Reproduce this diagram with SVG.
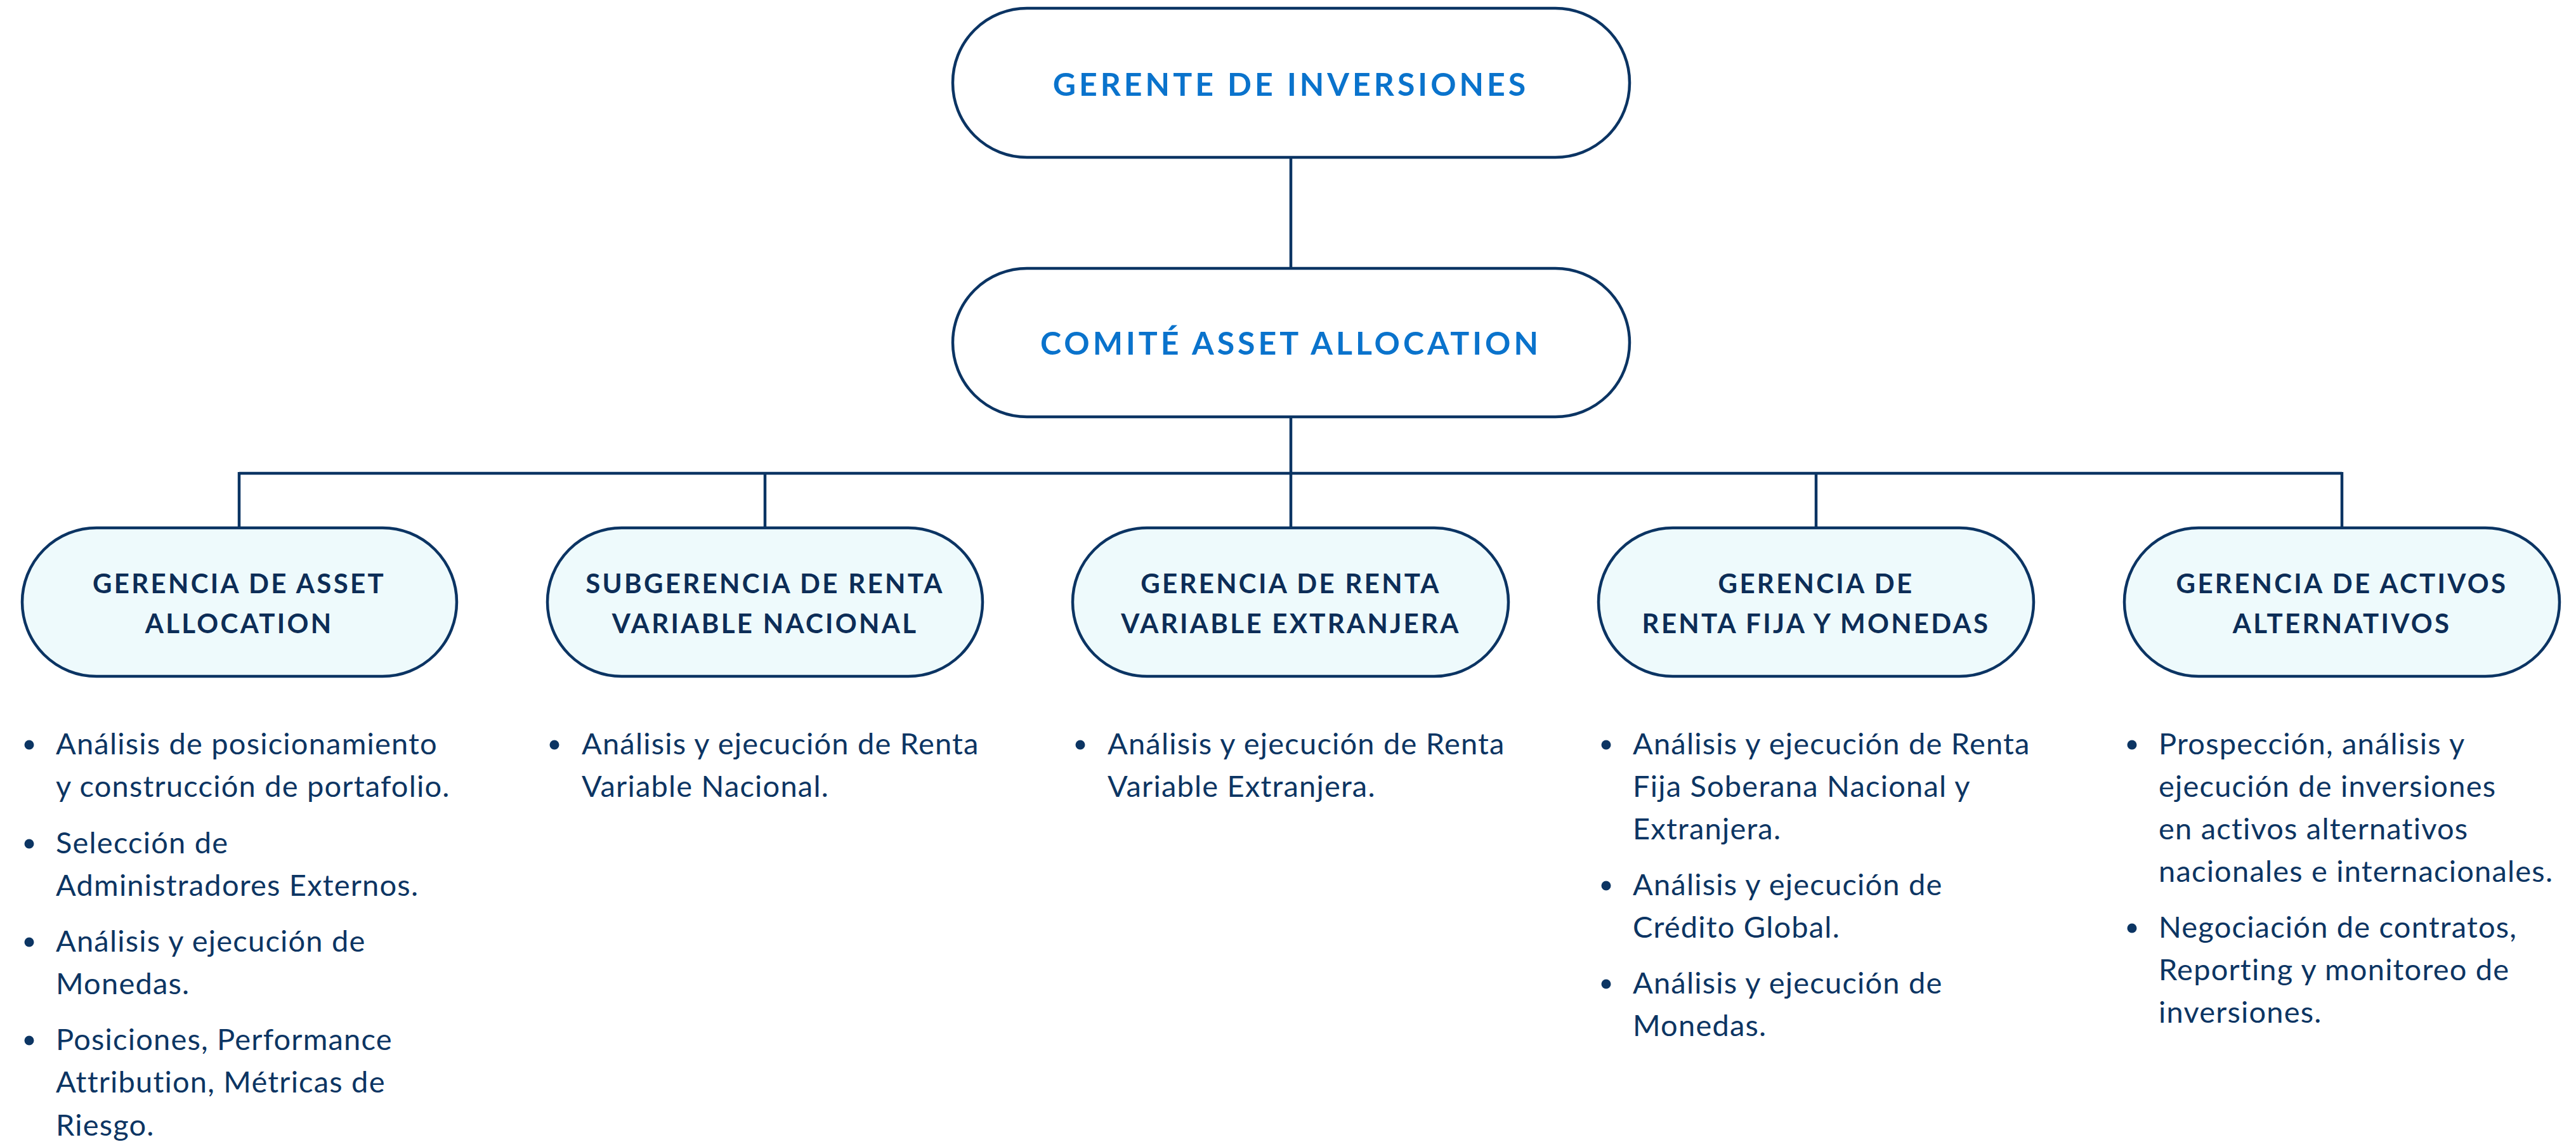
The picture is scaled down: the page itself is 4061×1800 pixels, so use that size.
<svg xmlns="http://www.w3.org/2000/svg" width="4061" height="1800" viewBox="0 0 4061 1800">
<style>
.bg{fill:#ffffff}
.top{fill:#ffffff;stroke:#0b3463;stroke-width:4.5}
.sub{fill:#eefafc;stroke:#0b3463;stroke-width:4.5}
.t1{font-family:Lato,"Open Sans",sans-serif;font-weight:700;font-size:50px;fill:#0a73cc;text-anchor:middle;letter-spacing:5px}
.t2{font-family:Lato,"Open Sans",sans-serif;font-weight:700;font-size:42px;fill:#0c2d57;text-anchor:middle;letter-spacing:3.3px}
.b{font-family:Lato,"Open Sans",sans-serif;font-weight:400;font-size:47px;fill:#0c3563;letter-spacing:1.2px}
.dot{fill:#0c3563}
.con{fill:none;stroke:#0b3463;stroke-width:4.5}
</style>
<rect class="bg" x="0" y="0" width="4061" height="1800"/>
<g id="connectors">
<line class="con" x1="2035" y1="248" x2="2035" y2="423"/>
<line class="con" x1="2035" y1="657" x2="2035" y2="746"/>
<line class="con" x1="377" y1="746" x2="3692" y2="746"/>
<line class="con" x1="377" y1="744" x2="377" y2="832"/>
<line class="con" x1="1206" y1="744" x2="1206" y2="832"/>
<line class="con" x1="2035" y1="744" x2="2035" y2="832"/>
<line class="con" x1="2863" y1="744" x2="2863" y2="832"/>
<line class="con" x1="3692" y1="744" x2="3692" y2="832"/>
</g>
<g id="gerente">
<rect class="top" x="1502" y="13" width="1067" height="235" rx="117" ry="117"/>
<text class="t1" x="2035" y="151">GERENTE DE INVERSIONES</text>
</g>
<g id="comite">
<rect class="top" x="1502" y="423" width="1067" height="234" rx="117" ry="117"/>
<text class="t1" x="2035" y="559">COMITÉ ASSET ALLOCATION</text>
</g>
<g id="asset-allocation">
<rect class="sub" x="35" y="832" width="685" height="234" rx="117" ry="117"/>
<text class="t2" x="377" y="935">GERENCIA DE ASSET</text>
<text class="t2" x="377" y="998">ALLOCATION</text>
<circle class="dot" cx="46" cy="1174" r="7.5"/>
<text class="b" x="88" y="1189">Análisis de posicionamiento</text>
<text class="b" x="88" y="1256">y construcción de portafolio.</text>
<circle class="dot" cx="46" cy="1330" r="7.5"/>
<text class="b" x="88" y="1345">Selección de</text>
<text class="b" x="88" y="1412">Administradores Externos.</text>
<circle class="dot" cx="46" cy="1485" r="7.5"/>
<text class="b" x="88" y="1500">Análisis y ejecución de</text>
<text class="b" x="88" y="1567">Monedas.</text>
<circle class="dot" cx="46" cy="1640" r="7.5"/>
<text class="b" x="88" y="1655">Posiciones, Performance</text>
<text class="b" x="88" y="1722">Attribution, Métricas de</text>
<text class="b" x="88" y="1790">Riesgo.</text>
</g>
<g id="renta-variable-nacional">
<rect class="sub" x="863" y="832" width="686" height="234" rx="117" ry="117"/>
<text class="t2" x="1206" y="935">SUBGERENCIA DE RENTA</text>
<text class="t2" x="1206" y="998">VARIABLE NACIONAL</text>
<circle class="dot" cx="874" cy="1174" r="7.5"/>
<text class="b" x="917" y="1189">Análisis y ejecución de Renta</text>
<text class="b" x="917" y="1256">Variable Nacional.</text>
</g>
<g id="renta-variable-extranjera">
<rect class="sub" x="1691" y="832" width="687" height="234" rx="117" ry="117"/>
<text class="t2" x="2035" y="935">GERENCIA DE RENTA</text>
<text class="t2" x="2035" y="998">VARIABLE EXTRANJERA</text>
<circle class="dot" cx="1703" cy="1174" r="7.5"/>
<text class="b" x="1746" y="1189">Análisis y ejecución de Renta</text>
<text class="b" x="1746" y="1256">Variable Extranjera.</text>
</g>
<g id="renta-fija">
<rect class="sub" x="2520" y="832" width="686" height="234" rx="117" ry="117"/>
<text class="t2" x="2863" y="935">GERENCIA DE</text>
<text class="t2" x="2863" y="998">RENTA FIJA Y MONEDAS</text>
<circle class="dot" cx="2532" cy="1174" r="7.5"/>
<text class="b" x="2574" y="1189">Análisis y ejecución de Renta</text>
<text class="b" x="2574" y="1256">Fija Soberana Nacional y</text>
<text class="b" x="2574" y="1323">Extranjera.</text>
<circle class="dot" cx="2532" cy="1396" r="7.5"/>
<text class="b" x="2574" y="1411">Análisis y ejecución de</text>
<text class="b" x="2574" y="1478">Crédito Global.</text>
<circle class="dot" cx="2532" cy="1551" r="7.5"/>
<text class="b" x="2574" y="1566">Análisis y ejecución de</text>
<text class="b" x="2574" y="1633">Monedas.</text>
</g>
<g id="activos-alternativos">
<rect class="sub" x="3349" y="832" width="686" height="234" rx="117" ry="117"/>
<text class="t2" x="3692" y="935">GERENCIA DE ACTIVOS</text>
<text class="t2" x="3692" y="998">ALTERNATIVOS</text>
<circle class="dot" cx="3361" cy="1174" r="7.5"/>
<text class="b" x="3403" y="1189">Prospección, análisis y</text>
<text class="b" x="3403" y="1256">ejecución de inversiones</text>
<text class="b" x="3403" y="1323">en activos alternativos</text>
<text class="b" x="3403" y="1390">nacionales e internacionales.</text>
<circle class="dot" cx="3361" cy="1463" r="7.5"/>
<text class="b" x="3403" y="1478">Negociación de contratos,</text>
<text class="b" x="3403" y="1545">Reporting y monitoreo de</text>
<text class="b" x="3403" y="1612">inversiones.</text>
</g>
</svg>
